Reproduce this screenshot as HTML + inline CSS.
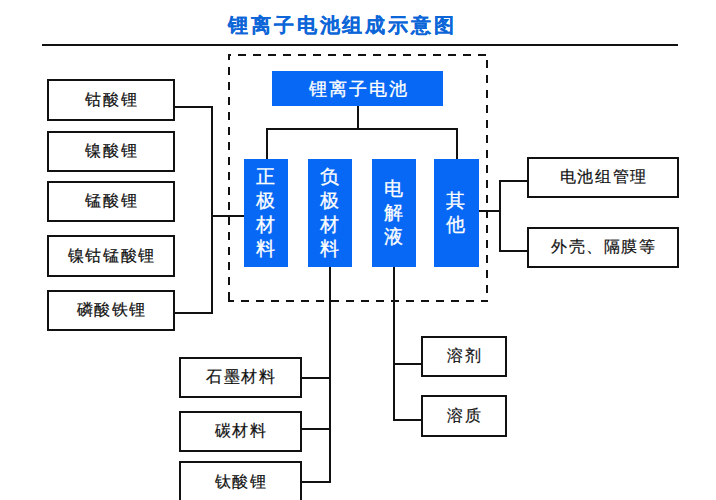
<!DOCTYPE html>
<html><head><meta charset="utf-8">
<style>
*{margin:0;padding:0;box-sizing:border-box}
html,body{width:716px;height:500px;overflow:hidden;background:#fff}
body{position:relative;font-family:"Liberation Sans",sans-serif;color:#111}
.a{position:absolute}
.l{position:absolute;background:#111}
.bx{position:absolute;border:2px solid #111;background:#fff;display:flex;align-items:center;justify-content:center;font-size:15.5px;line-height:1;white-space:nowrap}
.bx span{letter-spacing:1.6px;margin-right:-1.6px;-webkit-text-stroke:0.2px #111;position:relative;top:-0.5px}
.bl{position:absolute;background:#0668f4;color:#fff;display:flex;align-items:center;justify-content:center;white-space:nowrap}
.top span{font-size:18px;line-height:1;letter-spacing:2px;margin-right:-2px;-webkit-text-stroke:0.3px #fff}
.col span{font-size:18.5px;line-height:24px;text-align:center;-webkit-text-stroke:0.3px #fff;position:relative;left:-1px}
.title{position:absolute;top:12px;left:228px;white-space:nowrap;font-size:20px;font-weight:bold;color:#0d66d8;line-height:26px;letter-spacing:2.9px;-webkit-text-stroke:0.12px #0d66d8}
</style></head><body>
<div class="title">锂离子电池组成示意图</div>
<div class="l" style="left:42px;top:44px;width:636px;height:2px"></div>
<svg class="a" style="left:0;top:0" width="716" height="500">
<g stroke="#111" stroke-width="2" stroke-dasharray="8 7" fill="none">
<line x1="228" y1="55" x2="488" y2="55" stroke-dashoffset="5"/>
<line x1="229" y1="54" x2="229" y2="302" stroke-dashoffset="2"/>
<line x1="228" y1="301" x2="488" y2="301" stroke-dashoffset="2"/>
<line x1="487" y1="54" x2="487" y2="302" stroke-dashoffset="9"/>
</g></svg>
<div class="bl top" style="left:272px;top:71px;width:171px;height:35px;"><span>锂离子电池</span></div>
<div class="l" style="left:357px;top:106px;width:2px;height:22px"></div>
<div class="l" style="left:266px;top:128px;width:192px;height:2px"></div>
<div class="l" style="left:266px;top:128px;width:2px;height:31px"></div>
<div class="l" style="left:456px;top:128px;width:2px;height:31px"></div>
<div class="bl col" style="left:244px;top:159px;width:44px;height:108px;"><span>正<br>极<br>材<br>料</span></div>
<div class="bl col" style="left:308px;top:159px;width:44px;height:108px;"><span>负<br>极<br>材<br>料</span></div>
<div class="bl col" style="left:372px;top:159px;width:44px;height:108px;"><span>电<br>解<br>液</span></div>
<div class="bl col" style="left:434px;top:159px;width:45px;height:108px;"><span>其<br>他</span></div>
<div class="bx" style="left:47px;top:79px;width:128px;height:42px;"><span>钴酸锂</span></div>
<div class="bx" style="left:47px;top:131px;width:128px;height:41px;"><span>镍酸锂</span></div>
<div class="bx" style="left:47px;top:181px;width:128px;height:41px;"><span>锰酸锂</span></div>
<div class="bx" style="left:47px;top:235px;width:128px;height:42px;"><span>镍钴锰酸锂</span></div>
<div class="bx" style="left:47px;top:290px;width:128px;height:41px;"><span>磷酸铁锂</span></div>
<div class="l" style="left:175px;top:106px;width:38px;height:2px"></div>
<div class="l" style="left:175px;top:312px;width:38px;height:2px"></div>
<div class="l" style="left:211px;top:106px;width:2px;height:208px"></div>
<div class="l" style="left:211px;top:215px;width:33px;height:2px"></div>
<div class="l" style="left:479px;top:210px;width:22px;height:2px"></div>
<div class="l" style="left:499px;top:180px;width:2px;height:72px"></div>
<div class="l" style="left:499px;top:180px;width:28px;height:2px"></div>
<div class="l" style="left:499px;top:250px;width:28px;height:2px"></div>
<div class="bx" style="left:527px;top:157px;width:152px;height:41px;"><span>电池组管理</span></div>
<div class="bx" style="left:527px;top:227px;width:152px;height:41px;"><span>外壳、隔膜等</span></div>
<div class="l" style="left:329px;top:267px;width:2px;height:216px"></div>
<div class="l" style="left:302px;top:377px;width:29px;height:2px"></div>
<div class="l" style="left:302px;top:428px;width:29px;height:2px"></div>
<div class="l" style="left:302px;top:481px;width:29px;height:2px"></div>
<div class="bx" style="left:179px;top:357px;width:123px;height:41px;"><span>石墨材料</span></div>
<div class="bx" style="left:179px;top:411px;width:123px;height:41px;"><span>碳材料</span></div>
<div class="bx" style="left:179px;top:461px;width:123px;height:42px;"><span>钛酸锂</span></div>
<div class="l" style="left:393px;top:267px;width:2px;height:154px"></div>
<div class="l" style="left:393px;top:363px;width:28px;height:2px"></div>
<div class="l" style="left:393px;top:419px;width:28px;height:2px"></div>
<div class="bx" style="left:421px;top:336px;width:86px;height:41px;"><span>溶剂</span></div>
<div class="bx" style="left:421px;top:395px;width:86px;height:42px;"><span>溶质</span></div>
</body></html>
